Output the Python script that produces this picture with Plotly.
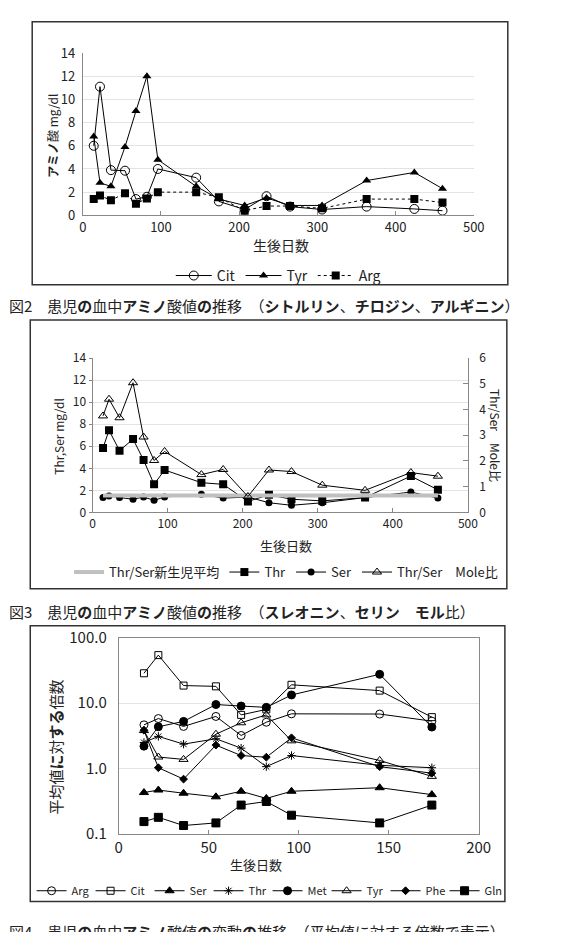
import plotly.graph_objects as go

W, H = 584, 932
FONT = "Noto Sans CJK JP"

# ---------- Chart 1 data ----------
days1 = [14, 22, 36, 54, 68, 82, 96, 145, 174, 207, 235, 265, 306, 363, 424, 460]
cit1 = [6.0, 11.1, 3.9, 3.85, 1.4, 1.6, 4.0, 3.25, 1.2, 0.5, 1.65, 0.75, 0.5, 0.75, 0.55, 0.4]
tyr1 = [6.8, 2.8, 2.5, 5.9, 9.0, 12.0, 4.8, 2.5, 1.4, 0.85, 1.5, 0.85, 0.85, 3.0, 3.7, 2.3]
arg1 = [1.4, 1.7, 1.3, 1.9, 1.0, 1.45, 2.0, 2.0, 1.55, 0.4, 0.8, 0.8, 0.6, 1.4, 1.4, 1.1]

# ---------- Chart 2 data ----------
days2 = [14, 22, 36, 54, 68, 82, 96, 145, 174, 207, 235, 265, 306, 363, 424, 460]
thr2 = [5.85, 7.45, 5.6, 6.65, 4.75, 2.55, 3.85, 2.7, 2.55, 1.0, 1.6, 1.2, 1.05, 1.35, 3.3, 2.05]
ser2 = [1.35, 1.5, 1.35, 1.2, 1.4, 1.1, 1.4, 1.65, 1.3, 1.4, 0.88, 0.65, 0.88, 1.35, 1.85, 1.3]
ratio2 = [3.75, 4.4, 3.68, 5.04, 2.93, 2.02, 2.37, 1.47, 1.67, 0.62, 1.65, 1.59, 1.06, 0.86, 1.55, 1.41]
nb_days = [14, 460]
nb_mean = [0.66, 0.66]

# ---------- Chart 3 data ----------
days3 = [14, 22, 36, 54, 68, 82, 96, 145, 174]
arg3 = [4.65, 5.8, 4.4, 6.25, 3.2, 5.1, 6.85, 6.8, 5.3]
cit3 = [28.5, 54.0, 18.5, 18.0, 6.6, 8.0, 19.0, 15.5, 6.1]
ser3 = [0.43, 0.47, 0.42, 0.37, 0.45, 0.35, 0.45, 0.51, 0.40]
thr3 = [2.5, 3.1, 2.36, 2.85, 2.05, 1.07, 1.58, 1.12, 1.03]
met3 = [2.2, 4.35, 5.25, 9.5, 9.0, 8.6, 13.3, 27.5, 4.3]
tyr3 = [3.8, 1.5, 1.38, 3.35, 5.0, 6.6, 2.65, 1.33, 0.76]
phe3 = [3.85, 1.03, 0.69, 2.28, 1.58, 1.49, 2.95, 1.07, 0.85]
gln3 = [0.155, 0.18, 0.135, 0.148, 0.277, 0.314, 0.194, 0.148, 0.277]


def px_x(p):
    return p / W


def px_y(p):
    return (H - p) / H


fig = go.Figure()
LW = 1
BLK = "black"

# Chart 1
fig.add_trace(go.Scatter(x=days1, y=cit1, name="Cit", mode="lines+markers",
                         line=dict(color=BLK, width=LW),
                         marker=dict(symbol="circle-open", size=9, color=BLK, line=dict(width=1)),
                         xaxis="x", yaxis="y", legend="legend"))
fig.add_trace(go.Scatter(x=days1, y=tyr1, name="Tyr", mode="lines+markers",
                         line=dict(color=BLK, width=LW),
                         marker=dict(symbol="triangle-up", size=8, color=BLK),
                         xaxis="x", yaxis="y", legend="legend"))
fig.add_trace(go.Scatter(x=days1, y=arg1, name="Arg", mode="lines+markers",
                         line=dict(color=BLK, width=LW, dash="dot"),
                         marker=dict(symbol="square", size=8, color=BLK),
                         xaxis="x", yaxis="y", legend="legend"))

# Chart 2
fig.add_trace(go.Scatter(x=nb_days, y=nb_mean, name="Thr/Ser新生児平均", mode="lines",
                         line=dict(color="#c0c0c0", width=4),
                         xaxis="x2", yaxis="y3", legend="legend2"))
fig.add_trace(go.Scatter(x=days2, y=thr2, name="Thr", mode="lines+markers",
                         line=dict(color=BLK, width=LW),
                         marker=dict(symbol="square", size=8, color=BLK),
                         xaxis="x2", yaxis="y2", legend="legend2"))
fig.add_trace(go.Scatter(x=days2, y=ser2, name="Ser", mode="lines+markers",
                         line=dict(color=BLK, width=LW),
                         marker=dict(symbol="circle", size=7, color=BLK),
                         xaxis="x2", yaxis="y2", legend="legend2"))
fig.add_trace(go.Scatter(x=days2, y=ratio2, name="Thr/Ser　Mole比", mode="lines+markers",
                         line=dict(color=BLK, width=LW),
                         marker=dict(symbol="triangle-up-open", size=8, color=BLK, line=dict(width=1)),
                         xaxis="x2", yaxis="y3", legend="legend2"))

# Chart 3
specs3 = [
    ("Arg", arg3, "circle-open", 8),
    ("Cit", cit3, "square-open", 7),
    ("Ser", ser3, "triangle-up", 8),
    ("Thr", thr3, "asterisk-open", 7),
    ("Met", met3, "circle", 8),
    ("Tyr", tyr3, "triangle-up-open", 8),
    ("Phe", phe3, "diamond", 6),
    ("Gln", gln3, "square", 8),
]
for name, vals, sym, sz in specs3:
    fig.add_trace(go.Scatter(x=days3, y=vals, name=name, mode="lines+markers",
                             line=dict(color=BLK, width=LW),
                             marker=dict(symbol=sym, size=sz, color=BLK, line=dict(width=1, color=BLK)),
                             xaxis="x3", yaxis="y4", legend="legend3"))

tickfont = dict(family=FONT, size=13, color="#222")
grid = "#e3e3e3"

fig.update_layout(
    width=W, height=H,
    margin=dict(l=0, r=0, t=0, b=0),
    paper_bgcolor="white", plot_bgcolor="white",
    font=dict(family=FONT, color="#222"),
    xaxis=dict(domain=[px_x(81), px_x(483)], anchor="y", range=[0, 500], dtick=100,
               showline=True, linecolor="#888", linewidth=1, showgrid=False, zeroline=False,
               ticks="inside", ticklen=4, tickcolor="#888", tickfont=tickfont),
    yaxis=dict(domain=[px_y(208), px_y(42)], anchor="x", range=[0, 14], dtick=2,
               showline=True, linecolor="#888", linewidth=1, showgrid=True, gridcolor=grid,
               zeroline=False, ticks="", tickfont=tickfont, ticklabelstandoff=4),
    xaxis2=dict(domain=[px_x(91), px_x(477)], anchor="y2", range=[0, 500], dtick=100,
                showline=True, linecolor="#888", linewidth=1, showgrid=False, zeroline=False,
                ticks="inside", ticklen=4, tickcolor="#888",
                tickfont=dict(family=FONT, size=12, color="#222")),
    yaxis2=dict(domain=[px_y(512), px_y(354)], anchor="x2", range=[0, 14], dtick=2,
                showline=True, linecolor="#888", linewidth=1, showgrid=True, gridcolor=grid,
                zeroline=False, ticks="outside", ticklen=3, tickcolor="#888",
                tickfont=dict(family=FONT, size=12, color="#222")),
    yaxis3=dict(overlaying="y2", side="right", anchor="x2", range=[0, 6], dtick=1,
                showline=True, linecolor="#888", linewidth=1, showgrid=False, zeroline=False,
                ticks="inside", ticklen=5, tickcolor="#888", ticklabelstandoff=8,
                tickfont=dict(family=FONT, size=12, color="#222")),
    xaxis3=dict(domain=[px_x(118), px_x(488)], anchor="y4", range=[0, 200], dtick=50,
                showline=True, mirror=True, linecolor="#888", linewidth=1, showgrid=False,
                zeroline=False, ticks="inside", ticklen=4, tickcolor="#888",
                tickfont=dict(family=FONT, size=15, color="#222")),
    yaxis4=dict(domain=[px_y(841), px_y(640)], anchor="x3", type="log", range=[-1, 2],
                tickvals=[0.1, 1, 10, 100], ticktext=["0.1", "1.0", "10.0", "100.0"],
                showline=True, mirror=True, linecolor="#888", linewidth=1, showgrid=True,
                gridcolor=grid, zeroline=False, ticks="", ticklabelstandoff=8,
                tickfont=dict(family=FONT, size=15, color="#222")),
    legend=dict(orientation="h", x=px_x(282), y=px_y(270), xanchor="center", yanchor="middle",
                font=dict(family=FONT, size=14, color="#222"), bgcolor="rgba(0,0,0,0)",
                itemwidth=36),
    legend2=dict(orientation="h", x=px_x(290), y=px_y(573), xanchor="center", yanchor="middle",
                 font=dict(family=FONT, size=13, color="#222"), bgcolor="rgba(0,0,0,0)",
                 itemwidth=30),
    legend3=dict(orientation="h", x=px_x(271), y=px_y(899), xanchor="center", yanchor="middle",
                 font=dict(family=FONT, size=11, color="#222"), bgcolor="rgba(0,0,0,0)",
                 itemwidth=30, entrywidth=14, entrywidthmode="pixels"),
    showlegend=True,
)

shapes = []
for (x0, y0, x1, y1) in [(29, 10, 518, 279), (27, 315, 517, 590), (27, 628, 515, 910)]:
    shapes.append(dict(type="rect", xref="paper", yref="paper",
                       x0=px_x(x0), x1=px_x(x1), y0=px_y(y1), y1=px_y(y0),
                       line=dict(color="#333", width=1.5), fillcolor="rgba(0,0,0,0)"))
fig.update_layout(shapes=shapes)


def ann(text, x, y, size=13, angle=0, xanchor="center", yanchor="middle"):
    return dict(text=text, x=px_x(x), y=px_y(y), xref="paper", yref="paper",
                showarrow=False, textangle=angle, xanchor=xanchor, yanchor=yanchor,
                font=dict(family=FONT, size=size, color="#222"))


annotations = [
    ann("<b>アミノ</b>酸 mg/dl", 50, 127, 12, -90),
    ann("生後日数", 285, 238, 14),
    ann("Thr,Ser mg/dl", 56, 434, 12, -90),
    ann("Thr/Ser　Mole比", 506, 433, 12, 90),
    ann("生後日数", 290, 546, 13),
    ann("平均値<b>に</b>対<b>する</b>倍数", 53, 752, 15, -90),
    ann("生後日数", 259, 872, 13),
    ann("図2　患児<b>の</b>血中<b>アミノ</b>酸値<b>の</b>推移　（<b>シトルリン</b>、<b>チロジン</b>、<b>アルギニン</b>）",
        3, 300, 15, 0, "left"),
    ann("図3　患児<b>の</b>血中<b>アミノ</b>酸値<b>の</b>推移　（<b>スレオニン</b>、<b>セリン</b>　<b>モル</b>比）",
        3, 613, 15, 0, "left"),
    ann("図4　患児<b>の</b>血中<b>アミノ</b>酸値<b>の</b>変動<b>の</b>推移　（平均値に対する倍数で表示）",
        3, 928, 15, 0, "left", "top"),
]
fig.update_layout(annotations=annotations)

fig.write_html("out.html")
